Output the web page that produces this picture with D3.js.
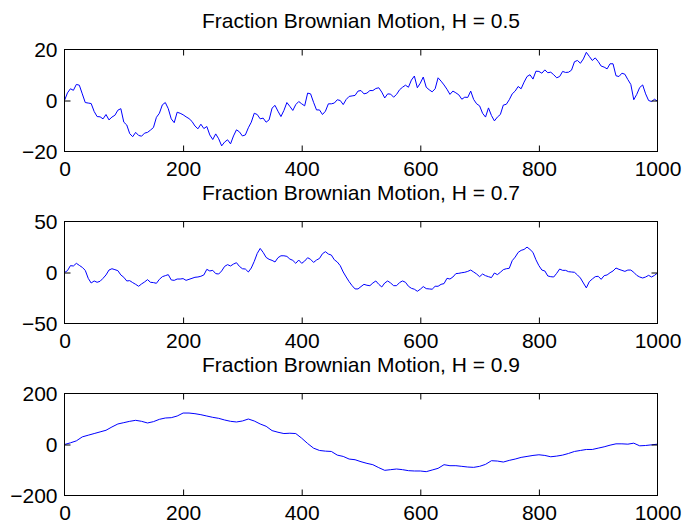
<!DOCTYPE html>
<html>
<head>
<meta charset="utf-8">
<script src="https://cdn.jsdelivr.net/npm/d3@7"></script>
<style>
  html, body { margin: 0; padding: 0; background: #fff; }
  svg { display: block; }
  text { font-family: "Liberation Sans", Arial, Helvetica, sans-serif; fill: #000; }
</style>
</head>
<body>
<svg id="chart" width="683" height="525"></svg>
<script>
// Fractional Brownian motion paths, three Hurst exponents
const titles = [
  "Fraction Brownian Motion, H = 0.5",
  "Fraction Brownian Motion, H = 0.7",
  "Fraction Brownian Motion, H = 0.9"
];

// H = 0.5, sampled every 5 steps (t = 0..1000)
const pathH05 = [
  0, 3.0, 4.6, 4.0, 6.3, 6.0, 2.6, -0.8, -1.0, -1.2,
  -4.3, -6.3, -6.4, -7.2, -5.5, -7.6, -6.5, -5.8, -3.8, -3.2,
  -8.5, -9.6, -13.0, -14.2, -12.5, -13.7, -14.0, -12.8, -12.5, -11.6,
  -10.6, -6.6, -5.0, -1.7, -0.8, -3.2, -7.2, -8.7, -4.6, -5.0,
  -5.6, -6.4, -7.1, -8.2, -10.0, -11.1, -9.3, -11.0, -10.2, -13.5,
  -15.3, -13.1, -15.0, -17.8, -16.3, -15.4, -17.0, -13.9, -11.5, -12.3,
  -13.9, -13.5, -10.7, -8.5, -5.0, -5.5, -7.2, -6.9, -8.5, -7.6,
  -3.0, -1.9, -4.2, -6.3, -3.9, -0.8, -2.3, -3.9, -1.6, -0.4,
  -1.3, -2.1, 2.9, 2.6, -0.7, -3.7, -3.7, -5.5, -4.2, -1.3,
  -1.3, -1.0, 0.3, 0.0, -1.6, 0.4, 1.6, 1.8, 2.0, 3.7,
  3.9, 2.6, 2.9, 3.9, 3.9, 4.7, 5.0, 3.3, 1.0, 2.6,
  2.5, 1.3, 2.4, 4.2, 5.2, 6.0, 5.2, 8.0, 9.6, 5.0,
  6.8, 9.2, 5.2, 4.2, 3.4, 4.6, 8.9, 7.6, 6.1, 4.4,
  2.4, 3.7, 3.0, 2.2, 0.5, 1.3, 1.2, 3.7, 0.4, -1.3,
  -2.1, -5.0, -6.5, -2.9, -5.9, -8.0, -6.5, -5.5, -1.8, -1.5,
  0.3, 2.6, 3.7, 5.5, 4.6, 7.2, 9.4, 10.1, 8.4, 11.5,
  11.4, 10.7, 12.0, 10.9, 11.1, 10.1, 8.9, 9.4, 11.4, 11.0,
  11.1, 11.9, 15.2, 15.7, 14.6, 16.3, 18.9, 17.3, 15.7, 16.7,
  15.3, 13.5, 13.1, 12.4, 14.4, 14.4, 9.7, 9.4, 10.7, 10.3,
  8.2, 6.3, 0.3, 2.4, 5.1, 6.1, 2.6, 0.0, -0.4, 0.5,
  -0.3
];

// H = 0.7, sampled every 5 steps
const pathH07 = [
  0, 1.8, 6.7, 6.4, 9.0, 7.0, 5.0, 2.1, -5.7, -10.3,
  -8.3, -9.6, -8.6, -5.7, -2.4, 2.4, 3.7, 2.8, 1.8, -2.4,
  -4.7, -8.3, -8.0, -9.9, -11.6, -13.5, -11.2, -9.3, -7.0, -9.6,
  -9.9, -10.6, -6.7, -4.1, -3.1, -2.1, -7.3, -7.7, -6.4, -6.4,
  -6.0, -7.7, -6.7, -5.7, -4.7, -4.4, -3.7, -2.4, 3.1, 1.5,
  2.1, -1.1, -1.5, 1.5, 6.0, 7.7, 6.4, 8.3, 9.6, 6.0,
  3.7, 3.4, 0.5, 4.4, 10.9, 18.7, 23.6, 19.7, 14.8, 12.9,
  11.9, 10.3, 14.5, 16.4, 16.4, 15.8, 13.2, 11.9, 9.0, 12.2,
  9.0, 11.2, 14.5, 12.9, 9.9, 12.2, 13.8, 18.4, 20.4, 18.1,
  17.1, 12.5, 10.3, 6.7, 0.5, -4.4, -9.0, -12.9, -16.1, -16.1,
  -13.8, -11.6, -12.5, -12.9, -10.3, -8.3, -11.6, -14.2, -10.3, -8.3,
  -10.3, -12.9, -12.9, -9.9, -8.3, -9.6, -13.5, -15.5, -16.4, -18.4,
  -16.4, -13.8, -15.8, -16.1, -16.4, -13.5, -13.5, -11.6, -10.9, -5.7,
  -6.4, -4.4, -1.1, -0.8, -0.2, 0.2, 1.1, 2.4, 0.5, -1.5,
  -4.1, -1.5, -3.1, -4.1, -5.0, -0.5, -2.1, 0.2, 2.8, 3.7,
  4.1, 11.6, 15.1, 19.7, 21.7, 22.6, 24.9, 22.6, 19.7, 12.5,
  6.7, 2.4, 1.5, -3.4, -4.1, -4.4, -0.8, 3.4, 2.1, 2.1,
  0.8, 0.5, 0.2, -2.4, -5.4, -10.3, -15.1, -9.0, -6.4, -4.1,
  -3.7, -6.7, -3.1, -2.4, -0.2, 1.5, 4.4, 3.1, 2.1, 1.1,
  2.4, 2.4, 0.2, -2.8, -4.4, -5.4, -4.4, -2.8, -4.4, -2.8,
  -0.5
];

// H = 0.9, sampled every 10 steps
const pathH09 = [
  0, 6.5, 14.3, 29.9, 36.4, 42.9, 49.4, 55.8, 68.8, 80.5,
  85.7, 90.9, 94.8, 90.9, 84.4, 89.6, 98.7, 103.9, 105.2, 111.7,
  123.4, 123.4, 120.8, 116.9, 111.7, 106.5, 102.6, 96.1, 90.9, 88.3,
  92.2, 100.0, 92.2, 80.5, 71.4, 54.5, 48.1, 42.9, 44.2, 42.9,
  24.7, 3.9, -14.3, -23.4, -26.0, -27.3, -41.6, -46.8, -57.1, -59.7,
  -67.5, -74.0, -79.2, -90.9, -101.3, -98.7, -96.1, -98.7, -102.6, -103.9,
  -103.9, -106.5, -100.0, -93.5, -79.2, -83.1, -83.1, -85.7, -88.3, -89.6,
  -85.7, -77.9, -63.6, -64.9, -68.8, -62.3, -57.1, -50.6, -46.8, -42.9,
  -40.3, -42.9, -48.1, -45.5, -41.6, -35.1, -27.3, -23.4, -19.5, -19.5,
  -14.3, -9.1, -2.6, 2.6, 2.6, 1.3, 5.2, -5.2, -3.9, -1.3,
  1.3
];

const sampleStep = [5, 5, 10];
const xTicks = [0, 200, 400, 600, 800, 1000];
const yTicks = [[-20, 0, 20], [-50, 0, 50], [-200, 0, 200]];
const yDomains = [[-20, 20], [-50, 50], [-200, 200]];
const paths = [pathH05, pathH07, pathH09];

const svg = d3.select("#chart");
svg.append("rect").attr("width", 683).attr("height", 525).attr("fill", "#fff");

const left = 64.5, right = 657.5;
const panelTops = [49.5, 221.5, 393.5];
const panelH = 102;
const fontSize = 21;
const tickLen = 6;
const plain = d3.format("d");

const x = d3.scaleLinear().domain([0, 1000]).range([left, right]);

paths.forEach((vals, i) => {
  const top = panelTops[i], bottom = top + panelH;
  const y = d3.scaleLinear().domain(yDomains[i]).range([bottom, top]);
  const g = svg.append("g");

  // data line
  const line = d3.line()
    .x((d, k) => x(k * sampleStep[i]))
    .y(d => y(d));
  g.append("path")
    .datum(vals)
    .attr("fill", "none")
    .attr("stroke", "#0000ff")
    .attr("stroke-width", 1)
    .attr("stroke-linejoin", "round")
    .attr("d", line);

  // bottom axis with labels, inward ticks
  const xa = g.append("g").attr("transform", `translate(0,${bottom})`)
    .call(d3.axisBottom(x).tickValues(xTicks).tickFormat(plain)
      .tickSizeInner(-tickLen).tickSizeOuter(0).tickPadding(10));
  // top axis, ticks only
  const xt = g.append("g").attr("transform", `translate(0,${top})`)
    .call(d3.axisTop(x).tickValues(xTicks).tickSizeInner(-tickLen).tickSizeOuter(0).tickFormat(""));
  // left axis with labels
  const ya = g.append("g").attr("transform", `translate(${left},0)`)
    .call(d3.axisLeft(y).tickValues(yTicks[i]).tickFormat(plain)
      .tickSizeInner(-tickLen).tickSizeOuter(0).tickPadding(7));
  // right axis, ticks only
  const yr = g.append("g").attr("transform", `translate(${right},0)`)
    .call(d3.axisRight(y).tickValues(yTicks[i]).tickSizeInner(-tickLen).tickSizeOuter(0).tickFormat(""));

  [xa, xt, ya, yr].forEach(a => {
    a.select(".domain").remove();
    a.selectAll(".tick line").attr("stroke", "#000").attr("stroke-width", 1);
    a.selectAll("text")
      .style("font-size", fontSize + "px")
      .style("font-family", '"Liberation Sans", Arial, Helvetica, sans-serif')
      .attr("fill", "#000");
  });
  // ticks that would sit on the box corners are dropped
  [xa, xt].forEach(a => a.selectAll(".tick").filter(d => d === 0 || d === 1000).select("line").remove());
  [ya, yr].forEach(a => a.selectAll(".tick").filter(d => d === yDomains[i][0] || d === yDomains[i][1]).select("line").remove());

  // box
  g.append("rect")
    .attr("x", left).attr("y", top)
    .attr("width", right - left).attr("height", panelH)
    .attr("fill", "none").attr("stroke", "#000").attr("stroke-width", 1);

  // title
  g.append("text")
    .attr("x", (left + right) / 2)
    .attr("y", top - 22)
    .attr("text-anchor", "middle")
    .style("font-size", fontSize + "px")
    .text(titles[i]);
});
</script>
</body>
</html>
